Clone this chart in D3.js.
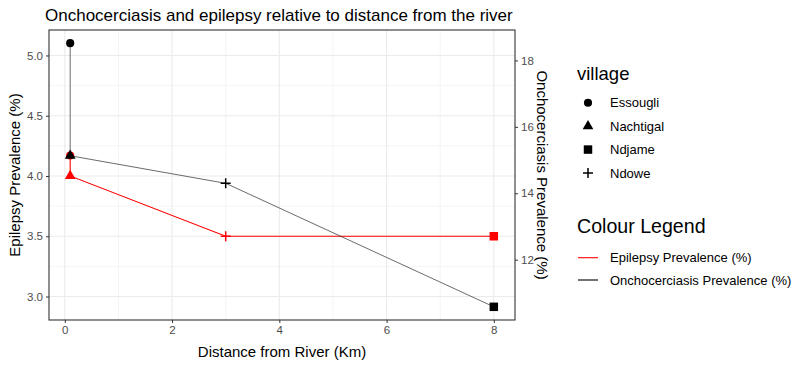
<!DOCTYPE html>
<html>
<head>
<meta charset="utf-8">
<script src="https://cdn.jsdelivr.net/npm/d3@7"></script>
<style>
  body { margin: 0; background: #fff; }
  svg { font-family: "Liberation Sans", Arial, sans-serif; display: block; }
  .tick text { fill: #4d4d4d; font-size: 11.5px; }
  .tick line { stroke: #333; }
</style>
</head>
<body>
<div id="chart"></div>
<script>
/* DATA */
const villages = ["Essougli", "Nachtigal", "Ndjame", "Ndowe"];
const distanceKm = [0.1, 0.1, 8, 3];
const epilepsyPct = [4.17, 4.0, 3.5, 3.5];
const onchoPct = [18.52, 15.13, 10.58, 14.3];
const xTicks = [0, 2, 4, 6, 8];
const yLeftTicks = [3.0, 3.5, 4.0, 4.5, 5.0];
const yRightTicks = [12, 14, 16, 18];
const secFactor = 3.63; // oncho = epilepsy * secFactor on the right axis

/* LAYOUT */
const width = 800, height = 365;
const panel = { left: 49, right: 515, top: 30, bottom: 320 };

const rows = villages.map((v, i) => ({
  village: v, dist: distanceKm[i], epi: epilepsyPct[i], onc: onchoPct[i]
}));
// geom_line joins in x order
const ordered = rows.slice().sort((a, b) => a.dist - b.dist);

// ggplot-style 5% expansion
function expand(ext) {
  const pad = (ext[1] - ext[0]) * 0.05;
  return [ext[0] - pad, ext[1] + pad];
}

const xScale = d3.scaleLinear()
  .domain(expand(d3.extent(distanceKm)))
  .range([panel.left, panel.right]);

const yAll = epilepsyPct.concat(onchoPct.map(d => d / secFactor));
const yScale = d3.scaleLinear()
  .domain(expand(d3.extent(yAll)))
  .range([panel.bottom, panel.top]);

const yRight = d3.scaleLinear()
  .domain(yScale.domain().map(d => d * secFactor))
  .range([panel.bottom, panel.top]);

const svg = d3.select("#chart").append("svg")
  .attr("width", width)
  .attr("height", height);

// minor gridlines = midpoints between majors
const mids = t => d3.pairs(t).map(p => (p[0] + p[1]) / 2);

const grid = svg.append("g");
grid.selectAll("line.xminor").data(mids(xTicks)).join("line")
  .attr("x1", d => xScale(d)).attr("x2", d => xScale(d))
  .attr("y1", panel.top).attr("y2", panel.bottom)
  .attr("stroke", "#f3f3f3").attr("stroke-width", 0.8);
grid.selectAll("line.yminor").data(mids(yLeftTicks)).join("line")
  .attr("y1", d => yScale(d)).attr("y2", d => yScale(d))
  .attr("x1", panel.left).attr("x2", panel.right)
  .attr("stroke", "#f3f3f3").attr("stroke-width", 0.8);
grid.selectAll("line.xmajor").data(xTicks).join("line")
  .attr("x1", d => xScale(d)).attr("x2", d => xScale(d))
  .attr("y1", panel.top).attr("y2", panel.bottom)
  .attr("stroke", "#ebebeb").attr("stroke-width", 1.1);
grid.selectAll("line.ymajor").data(yLeftTicks).join("line")
  .attr("y1", d => yScale(d)).attr("y2", d => yScale(d))
  .attr("x1", panel.left).attr("x2", panel.right)
  .attr("stroke", "#ebebeb").attr("stroke-width", 1.1);

// AXES
const xAxis = d3.axisBottom(xScale).tickValues(xTicks).tickSize(3).tickPadding(3).tickFormat(d3.format("d"));
const yAxis = d3.axisLeft(yScale).tickValues(yLeftTicks).tickSize(3).tickPadding(3).tickFormat(d3.format(".1f"));
const yAxisR = d3.axisRight(yRight).tickValues(yRightTicks).tickSize(3).tickPadding(3).tickFormat(d3.format("d"));

svg.append("g").attr("transform", `translate(0,${panel.bottom})`).call(xAxis)
  .call(g => g.select(".domain").remove());
svg.append("g").attr("transform", `translate(${panel.left},0)`).call(yAxis)
  .call(g => g.select(".domain").remove());
svg.append("g").attr("transform", `translate(${panel.right},0)`).call(yAxisR)
  .call(g => g.select(".domain").remove());

// LINES
const lineEpi = d3.line().x(d => xScale(d.dist)).y(d => yScale(d.epi));
const lineOnc = d3.line().x(d => xScale(d.dist)).y(d => yScale(d.onc / secFactor));

const shapeOf = {
  Essougli: d3.symbol().type(d3.symbolCircle).size(52)(),
  Nachtigal: d3.symbol().type(d3.symbolTriangle).size(50)(),
  Ndjame: d3.symbol().type(d3.symbolSquare).size(72)(),
  Ndowe: "M-5,0H5M0,-5V5"
};

function drawPoints(cls, color, yFn) {
  svg.selectAll("path." + cls).data(rows).join("path")
    .attr("class", cls)
    .attr("transform", d => `translate(${xScale(d.dist)},${yFn(d)})`)
    .attr("d", d => shapeOf[d.village])
    .attr("fill", d => d.village === "Ndowe" ? "none" : color)
    .attr("stroke", d => d.village === "Ndowe" ? color : "none")
    .attr("stroke-width", 1.5);
}

svg.append("path").datum(ordered)
  .attr("fill", "none").attr("stroke", "red").attr("stroke-width", 1.1)
  .attr("d", lineEpi);
drawPoints("pe", "red", d => yScale(d.epi));

svg.append("path").datum(ordered)
  .attr("fill", "none").attr("stroke", "#222").attr("stroke-width", 0.9)
  .attr("stroke-opacity", 0.75)
  .attr("d", lineOnc);
drawPoints("po", "black", d => yScale(d.onc / secFactor));

// panel border
svg.append("rect")
  .attr("x", panel.left).attr("y", panel.top)
  .attr("width", panel.right - panel.left).attr("height", panel.bottom - panel.top)
  .attr("fill", "none").attr("stroke", "#333").attr("stroke-width", 1.1);

// TITLES
svg.append("text").attr("x", 45).attr("y", 21)
  .attr("font-size", 17).attr("fill", "#000")
  .text("Onchocerciasis and epilepsy relative to distance from the river");

svg.append("text")
  .attr("x", (panel.left + panel.right) / 2).attr("y", 357)
  .attr("text-anchor", "middle").attr("font-size", 15)
  .text("Distance from River (Km)");

svg.append("text")
  .attr("transform", `translate(20,${(panel.top + panel.bottom) / 2}) rotate(-90)`)
  .attr("text-anchor", "middle").attr("font-size", 15)
  .text("Epilepsy Prevalence (%)");

svg.append("text")
  .attr("transform", `translate(537,${(panel.top + panel.bottom) / 2}) rotate(90)`)
  .attr("text-anchor", "middle").attr("font-size", 15)
  .text("Onchocerciasis Prevalence (%)");

// LEGENDS
const legX = 577;
svg.append("text").attr("x", legX).attr("y", 80).attr("font-size", 18.5).text("village");

const keyY = d3.scalePoint().domain(villages).range([102.7, 173]);
const vKeys = svg.append("g");
vKeys.selectAll("path").data(villages).join("path")
  .attr("transform", d => `translate(588,${keyY(d)})`)
  .attr("d", d => shapeOf[d])
  .attr("fill", d => d === "Ndowe" ? "none" : "black")
  .attr("stroke", d => d === "Ndowe" ? "black" : "none")
  .attr("stroke-width", 1.5);
vKeys.selectAll("text").data(villages).join("text")
  .attr("x", 610).attr("y", d => keyY(d) + 4.7)
  .attr("font-size", 13).text(d => d);

svg.append("text").attr("x", legX).attr("y", 233).attr("font-size", 19.6).text("Colour Legend");

const colourKeys = [
  { label: "Epilepsy Prevalence (%)", color: "red" },
  { label: "Onchocerciasis Prevalence (%)", color: "black" }
];
const cY = d3.scalePoint().domain(colourKeys.map(d => d.label)).range([257.7, 280]);
const cKeys = svg.append("g");
cKeys.selectAll("line").data(colourKeys).join("line")
  .attr("x1", 578).attr("x2", 598)
  .attr("y1", d => cY(d.label)).attr("y2", d => cY(d.label))
  .attr("stroke", d => d.color).attr("stroke-width", 1.1);
cKeys.selectAll("text").data(colourKeys).join("text")
  .attr("x", 610).attr("y", d => cY(d.label) + 4.7)
  .attr("font-size", 13).text(d => d.label);
</script>
</body>
</html>
